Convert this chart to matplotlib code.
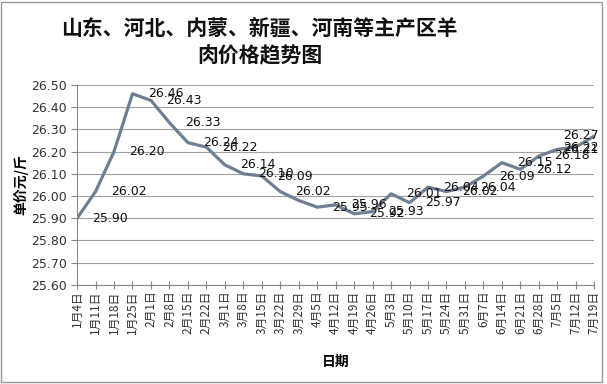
import matplotlib
matplotlib.use("Agg")
from matplotlib import pyplot as plt
from matplotlib import transforms
from matplotlib.patches import Rectangle

plt.rcParams['font.family'] = ['Noto Sans CJK SC', 'DejaVu Sans']

# weekly dates and mutton price (yuan / jin)
dates = ['1月4日', '1月11日', '1月18日', '1月25日', '2月1日', '2月8日', '2月15日',
         '2月22日', '3月1日', '3月8日', '3月15日', '3月22日', '3月29日', '4月5日',
         '4月12日', '4月19日', '4月26日', '5月3日', '5月10日', '5月17日', '5月24日',
         '5月31日', '6月7日', '6月14日', '6月21日', '6月28日', '7月5日', '7月12日',
         '7月19日']
prices = [25.90, 26.02, 26.20, 26.46, 26.43, 26.33, 26.24, 26.22, 26.14, 26.10,
          26.09, 26.02, 25.98, 25.95, 25.96, 25.92, 25.93, 26.01, 25.97, 26.04,
          26.02, 26.04, 26.09, 26.15, 26.12, 26.18, 26.21, 26.22, 26.27]
# 3月29日 has no data label in the original chart
show_label = [True] * len(prices)
show_label[12] = False

title = '山东、河北、内蒙、新疆、河南等主产区羊\n肉价格趋势图'
y_ticks = [25.60, 25.70, 25.80, 25.90, 26.00, 26.10, 26.20, 26.30, 26.40, 26.50]

fig = plt.figure(figsize=(6.07, 3.84), dpi=100)
ax = fig.add_axes([0.127, 0.258, 0.852, 0.521])

x = list(range(len(prices)))
ax.plot(x, prices, color='#6f7f92', lw=2.3, solid_joinstyle='round')

ax.set_xlim(0, len(prices) - 1)
ax.set_ylim(25.60, 26.50)
ax.set_yticks(y_ticks)
ax.set_yticklabels([f'{v:.2f}' for v in y_ticks], fontsize=9, color='#333333',
                   family='DejaVu Sans')
ax.set_xticks(x)
ax.set_xticklabels(dates, rotation=90, fontsize=8.5, color='#333333', va='top')
ax.tick_params(axis='both', color='#888888', length=4, width=0.8)
ax.tick_params(axis='x', direction='inout', length=6, pad=1)

ax.grid(axis='y', color='#a0a0a0', lw=0.8)
ax.set_axisbelow(True)
for side in ['top', 'right']:
    ax.spines[side].set_visible(False)
for side in ['left', 'bottom']:
    ax.spines[side].set_color('#888888')
    ax.spines[side].set_linewidth(0.8)

# data labels to the right of each point, the last ones kept inside the plot
blend = transforms.blended_transform_factory(ax.transAxes, ax.transData)
for i, v in enumerate(prices):
    if not show_label[i]:
        continue
    if i >= len(prices) - 3:
        ax.text(1.008, v, f'{v:.2f}', transform=blend, ha='right', va='center',
                fontsize=9, family='DejaVu Sans', color='#111111', clip_on=False)
    else:
        ax.annotate(f'{v:.2f}', (i, v), xytext=(11, 0), textcoords='offset points',
                    ha='left', va='center', fontsize=9, family='DejaVu Sans',
                    color='#111111')

ax.set_xlabel('日期', fontsize=10, fontweight='bold')
ax.xaxis.set_label_coords(0.5, -0.35)
ax.set_ylabel('单价元/斤', fontsize=10, fontweight='bold')
ax.yaxis.set_label_coords(-0.095, 0.5)

fig.text(0.428, 0.89, title, ha='center', va='center', fontsize=15,
         fontweight='bold', linespacing=1.4, color='#111111')

fig.patches.append(Rectangle((0.002, 0.005), 0.99, 0.99, transform=fig.transFigure,
                             fill=False, edgecolor='#999999', lw=1))

fig.savefig('out.png', dpi=100)
